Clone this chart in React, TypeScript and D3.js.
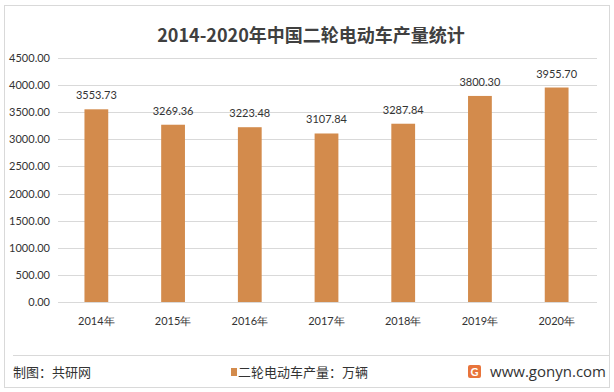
import React from "react";
import * as d3 from "d3";

const categories = ["2014年", "2015年", "2016年", "2017年", "2018年", "2019年", "2020年"];
const values = [3553.73, 3269.36, 3223.48, 3107.84, 3287.84, 3800.3, 3955.7];
const yTicks = [0, 500, 1000, 1500, 2000, 2500, 3000, 3500, 4000, 4500];
const title = "2014-2020年中国二轮电动车产量统计";
const legendLabel = "二轮电动车产量：万辆";
const source = "制图：共研网";
const site = "www.gonyn.com";

const W = 614, H = 392;
const BAR = "#D38B4C";
const NUM_FONT = "Lato, 'Liberation Sans', sans-serif";
const CJK_FONT = "'Noto Sans CJK SC', sans-serif";

export default function App() {
  const x = d3.scaleBand<string>().domain(categories).range([58, 595]).paddingInner(0.69).paddingOuter(0.345);
  const y = d3.scaleLinear().domain([0, 4500]).range([302, 58]);
  return (
    <svg width={W} height={H} style={{ position: "absolute", left: 0, top: 0 }}>
      <rect x={0} y={0} width={W} height={H} fill="#fff" />
      <rect x={4.5} y={5.5} width={605} height={382} fill="#fff" stroke="#d9d9d9" />
      <text x={311} y={42} textAnchor="middle" fontFamily={CJK_FONT} fontWeight="bold" fontSize={18} fill="#404040">{title}</text>
      {yTicks.map(t => (
        <g key={t}>
          <line x1={58} x2={597} y1={Math.round(y(t)) + 0.5} y2={Math.round(y(t)) + 0.5} stroke="#d9d9d9" />
          <text x={50} y={y(t) + 4} textAnchor="end" fontFamily={NUM_FONT} fontSize={11} fill="#333">{t.toFixed(2)}</text>
        </g>
      ))}
      {values.map((v, i) => {
        const cx = x(categories[i])!;
        return (
          <g key={i}>
            <rect x={cx} y={y(v)} width={x.bandwidth()} height={y(0) - y(v)} fill={BAR} />
            <text x={cx + x.bandwidth() / 2} y={y(v) - 10} textAnchor="middle" fontFamily={NUM_FONT} fontSize={11} fill="#333">{v.toFixed(2)}</text>
            <text x={cx + x.bandwidth() / 2} y={325} textAnchor="middle" fontFamily={NUM_FONT} fontSize={11} fill="#333">{categories[i]}</text>
          </g>
        );
      })}
      <line x1={13} x2={610} y1={355.5} y2={355.5} stroke="#d9d9d9" />
      <text x={13} y={377} fontFamily={CJK_FONT} fontSize={13} fill="#333">{source}</text>
      <rect x={231} y={368} width={6} height={8} fill={BAR} />
      <text x={238} y={377} fontFamily={CJK_FONT} fontSize={13} fill="#333">{legendLabel}</text>
      <rect x={468} y={365} width={13} height={13} rx={2} fill="#E8743B" />
      <text x={474.5} y={375.5} textAnchor="middle" fontFamily={NUM_FONT} fontWeight="bold" fontSize={11} fill="#fff">G</text>
      <text x={606} y={377} textAnchor="end" fontFamily="'Open Sans', sans-serif" fontSize={15} fill="#333">{site}</text>
    </svg>
  );
}
